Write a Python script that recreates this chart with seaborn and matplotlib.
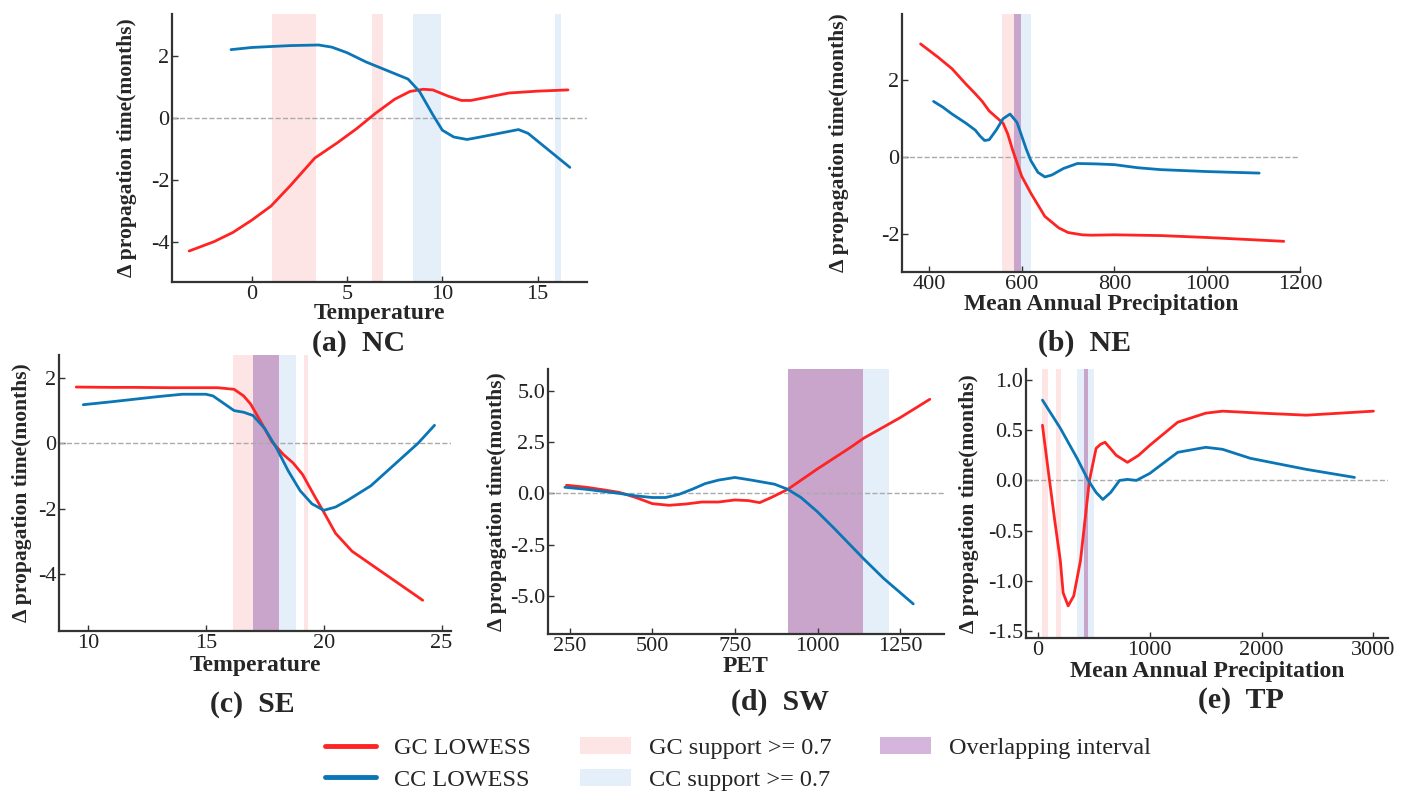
import matplotlib
matplotlib.use("Agg")
import matplotlib.pyplot as plt
import seaborn as sns
import pandas as pd
from matplotlib.lines import Line2D
from matplotlib.patches import Patch

# ---- panel (a) NC : Temperature
a_gc_x = [-3.3, -2, -1, 0, 1, 2, 3.3, 4.5, 5.5, 6.5, 7.5, 8.3, 9, 9.5, 10.3, 11, 11.5, 12.5, 13.5, 15, 16.6]
a_gc_y = [-4.3, -4.0, -3.7, -3.3, -2.85, -2.2, -1.3, -0.8, -0.35, 0.15, 0.6, 0.85, 0.92, 0.9, 0.7, 0.56, 0.56, 0.68, 0.8, 0.86, 0.9]
a_cc_x = [-1.1, 0, 1, 2, 3.5, 4.2, 5, 6, 7, 8.2, 8.8, 9.5, 10, 10.6, 11.3, 12, 13, 14, 14.5, 15.5, 16.7]
a_cc_y = [2.2, 2.27, 2.3, 2.33, 2.35, 2.28, 2.1, 1.8, 1.55, 1.25, 0.85, 0.1, -0.4, -0.62, -0.7, -0.62, -0.5, -0.38, -0.5, -1.0, -1.6]
a_gc_bands = [(1.05, 3.35), (6.32, 6.87)]
a_cc_bands = [(8.45, 9.95), (15.93, 16.23)]
a_ov_bands = []

# ---- panel (b) NE : Mean Annual Precipitation
b_gc_x = [382, 420, 450, 480, 500, 515, 530, 560, 570, 580, 590, 600, 620, 650, 680, 700, 730, 750, 800, 900, 1000, 1100, 1165]
b_gc_y = [2.95, 2.6, 2.3, 1.9, 1.65, 1.45, 1.2, 0.88, 0.6, 0.2, -0.15, -0.5, -0.95, -1.55, -1.85, -1.97, -2.03, -2.04, -2.03, -2.05, -2.1, -2.16, -2.2]
b_cc_x = [410, 430, 450, 480, 500, 510, 520, 530, 545, 560, 575, 590, 600, 610, 620, 635, 650, 665, 690, 720, 760, 800, 850, 900, 1000, 1112]
b_cc_y = [1.45, 1.3, 1.12, 0.88, 0.7, 0.55, 0.43, 0.45, 0.7, 1.0, 1.12, 0.9, 0.55, 0.2, -0.1, -0.4, -0.52, -0.47, -0.3, -0.17, -0.18, -0.2, -0.28, -0.33, -0.38, -0.42]
b_gc_bands = [(558, 583)]
b_cc_bands = [(598, 621)]
b_ov_bands = [(583, 598)]

# ---- panel (c) SE : Temperature
c_gc_x = [9.5, 11, 12, 13.5, 15, 15.5, 16.2, 16.6, 16.9, 17.3, 17.8, 18.3, 18.7, 19.1, 19.6, 20, 20.5, 21.2, 22, 23, 24.2]
c_gc_y = [1.72, 1.71, 1.71, 1.7, 1.7, 1.7, 1.65, 1.45, 1.2, 0.7, 0.05, -0.35, -0.6, -0.95, -1.6, -2.1, -2.75, -3.3, -3.7, -4.2, -4.8]
c_cc_x = [9.8, 11, 12, 13, 14, 15, 15.3, 15.8, 16.2, 16.6, 17, 17.5, 18, 18.5, 19, 19.5, 20, 20.5, 21, 22, 23, 24, 24.7]
c_cc_y = [1.18, 1.27, 1.35, 1.43, 1.5, 1.5, 1.45, 1.2, 1.0, 0.95, 0.85, 0.45, -0.15, -0.85, -1.45, -1.85, -2.05, -1.95, -1.75, -1.3, -0.65, 0.0, 0.55]
c_gc_bands = [(16.17, 16.98), (19.17, 19.35)]
c_cc_bands = [(18.1, 18.83)]
c_ov_bands = [(16.98, 18.1)]

# ---- panel (d) SW : PET
d_gc_x = [240, 300, 350, 400, 450, 500, 550, 600, 650, 700, 750, 790, 825, 860, 910, 1000, 1100, 1140, 1250, 1340]
d_gc_y = [0.4, 0.3, 0.18, 0.05, -0.2, -0.5, -0.58, -0.52, -0.42, -0.42, -0.32, -0.35, -0.45, -0.2, 0.2, 1.2, 2.25, 2.7, 3.7, 4.6]
d_cc_x = [235, 300, 350, 400, 450, 500, 540, 580, 620, 660, 700, 750, 800, 870, 910, 950, 1000, 1050, 1140, 1200, 1290]
d_cc_y = [0.3, 0.2, 0.1, 0.0, -0.12, -0.2, -0.2, -0.05, 0.2, 0.48, 0.65, 0.78, 0.65, 0.45, 0.2, -0.2, -0.9, -1.7, -3.2, -4.15, -5.4]
d_gc_bands = [(910, 1137)]
d_cc_bands = [(1137, 1217)]
d_ov_bands = [(910, 1137)]

# ---- panel (e) TP : Mean Annual Precipitation
e_gc_x = [40, 80, 150, 200, 225, 270, 320, 380, 420, 460, 520, 560, 600, 700, 800, 900, 1000, 1250, 1500, 1650, 2000, 2400, 3000]
e_gc_y = [0.55, 0.2, -0.4, -0.8, -1.12, -1.25, -1.15, -0.8, -0.4, 0.0, 0.32, 0.36, 0.38, 0.25, 0.18, 0.25, 0.35, 0.58, 0.67, 0.69, 0.67, 0.65, 0.69]
e_cc_x = [40, 200, 350, 450, 520, 580, 650, 730, 800, 880, 1000, 1250, 1500, 1650, 1900, 2400, 2830]
e_cc_y = [0.8, 0.52, 0.22, 0.0, -0.12, -0.19, -0.12, 0.0, 0.01, 0.0, 0.07, 0.28, 0.33, 0.31, 0.22, 0.11, 0.03]
e_gc_bands = [(36, 86), (160, 208)]
e_cc_bands = [(348, 413), (443, 503)]
e_ov_bands = [(413, 443)]

GC_COLOR = "#ff2424"
CC_COLOR = "#0a76b6"
GC_BAND = "#fde5e5"
CC_BAND = "#e4eff9"
OV_BAND = "#c9a5cc"

sns.set_style("ticks")
plt.rcParams["font.family"] = ["Liberation Serif", "DejaVu Serif"]
plt.rcParams["axes.edgecolor"] = "#333333"
plt.rcParams["axes.unicode_minus"] = False

fig = plt.figure(figsize=(14.07, 8.08), dpi=100)

W, H = 1407, 808


def box(l, r, t, b):
    return [l / W, 1 - b / H, (r - l) / W, (b - t) / H]


# pixel boxes (l, r, t, b), xlabel y centre, ylabel x centre, title centre
panels = [
    dict(px=(172, 587, 14, 282), gx=a_gc_x, gy=a_gc_y, cx=a_cc_x, cy=a_cc_y,
         gb=a_gc_bands, cb=a_cc_bands, ob=a_ov_bands, xlim=(-4.2, 17.6), ylim=(-5.3, 3.35),
         xt=[0, 5, 10, 15], yt=[-4, -2, 0, 2], xl="Temperature", xly=314, ylx=127,
         title="(a)  NC", tpos=(359, 343)),
    dict(px=(902, 1300, 14, 272), gx=b_gc_x, gy=b_gc_y, cx=b_cc_x, cy=b_cc_y,
         gb=b_gc_bands, cb=b_cc_bands, ob=b_ov_bands, xlim=(342, 1200), ylim=(-3.0, 3.73),
         xt=[400, 600, 800, 1000, 1200], yt=[-2, 0, 2], xl="Mean Annual Precipitation",
         xly=304, ylx=839, title="(b)  NE", tpos=(1085, 343)),
    dict(px=(59, 451, 355, 631), gx=c_gc_x, gy=c_gc_y, cx=c_cc_x, cy=c_cc_y,
         gb=c_gc_bands, cb=c_cc_bands, ob=c_ov_bands, xlim=(8.77, 25.4), ylim=(-5.74, 2.7),
         xt=[10, 15, 20, 25], yt=[-4, -2, 0, 2], xl="Temperature", xly=665, ylx=22,
         title="(c)  SE", tpos=(252, 704)),
    dict(px=(548, 944, 369, 634), gx=d_gc_x, gy=d_gc_y, cx=d_cc_x, cy=d_cc_y,
         gb=d_gc_bands, cb=d_cc_bands, ob=d_ov_bands, xlim=(184, 1383), ylim=(-6.87, 6.08),
         xt=[250, 500, 750, 1000, 1250], yt=[-5.0, -2.5, 0.0, 2.5, 5.0], xl="PET",
         xly=666, ylx=497, title="(d)  SW", tpos=(780, 702)),
    dict(px=(1026, 1388, 369, 638), gx=e_gc_x, gy=e_gc_y, cx=e_cc_x, cy=e_cc_y,
         gb=e_gc_bands, cb=e_cc_bands, ob=e_ov_bands, xlim=(-107, 3130), ylim=(-1.57, 1.11),
         xt=[0, 1000, 2000, 3000], yt=[-1.5, -1.0, -0.5, 0.0, 0.5, 1.0],
         xl="Mean Annual Precipitation", xly=672, ylx=969, title="(e)  TP", tpos=(1241, 701)),
]

for p in panels:
    l, r, t, b = p["px"]
    ax = fig.add_axes(box(l, r, t, b))
    for lo, hi in p["gb"]:
        ax.axvspan(lo, hi, color=GC_BAND, lw=0, zorder=0)
    for lo, hi in p["cb"]:
        ax.axvspan(lo, hi, color=CC_BAND, lw=0, zorder=0)
    for lo, hi in p["ob"]:
        ax.axvspan(lo, hi, color=OV_BAND, lw=0, zorder=0.5)
    ax.axhline(0, color="#aaaaaa", ls="--", lw=1, zorder=1)
    gc = pd.DataFrame({"x": p["gx"], "y": p["gy"]})
    cc = pd.DataFrame({"x": p["cx"], "y": p["cy"]})
    sns.lineplot(data=gc, x="x", y="y", color=GC_COLOR, lw=2, sort=False, ax=ax, zorder=3)
    sns.lineplot(data=cc, x="x", y="y", color=CC_COLOR, lw=2, sort=False, ax=ax, zorder=3)
    ax.set_xlim(*p["xlim"])
    ax.set_ylim(*p["ylim"])
    ax.set_xticks(p["xt"])
    ax.set_yticks(p["yt"])
    if isinstance(p["yt"][0], float):
        ax.set_yticklabels([f"{v:.1f}" for v in p["yt"]])
    sns.despine(ax=ax)
    for s in ["left", "bottom"]:
        ax.spines[s].set_linewidth(1.6)
    ax.tick_params(direction="in", length=4, width=1, labelsize=16, pad=2, colors="#333333",
                   labelcolor="#222222")
    ax.set_xlabel(p["xl"], fontsize=17, fontweight="bold", va="center")
    ax.xaxis.set_label_coords(0.5, (b - p["xly"]) / (b - t))
    ax.set_ylabel("Δ propagation time(months)", fontsize=15.5, fontweight="bold", va="center")
    ax.yaxis.set_label_coords((p["ylx"] - l) / (r - l), 0.5)
    fig.text(p["tpos"][0] / W, 1 - p["tpos"][1] / H, p["title"], fontsize=21.5,
             fontweight="bold", ha="center", va="center")

handles = [
    Line2D([0], [0], color=GC_COLOR, lw=3.5),
    Line2D([0], [0], color=CC_COLOR, lw=3.5),
    Patch(facecolor=GC_BAND, edgecolor="none"),
    Patch(facecolor=CC_BAND, edgecolor="none"),
    Patch(facecolor="#d6b5dc", edgecolor="none"),
]
labels = ["GC LOWESS", "CC LOWESS", "GC support >= 0.7", "CC support >= 0.7", "Overlapping interval"]
fig.legend(handles, labels, ncol=3, loc="center", bbox_to_anchor=(738 / W, 1 - 764 / H),
           frameon=False, fontsize=17.5, handlelength=2.1, handleheight=0.7,
           handletextpad=0.75, columnspacing=2.0, labelspacing=0.4)

fig.savefig("out.png", dpi=100)
